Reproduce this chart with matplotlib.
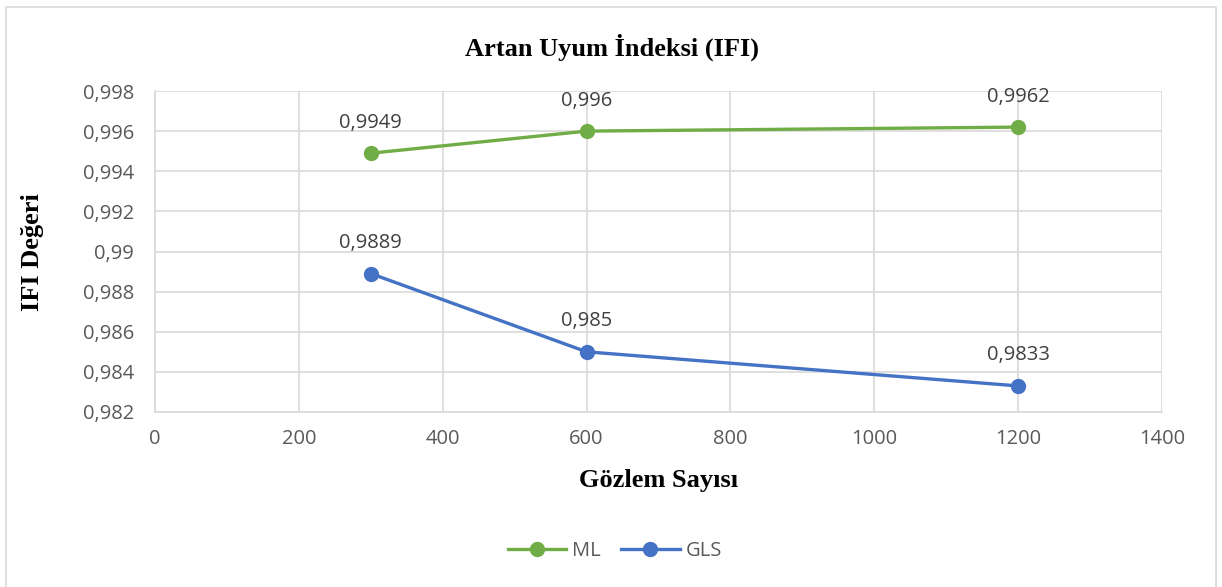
import matplotlib
matplotlib.use("Agg")
import matplotlib.pyplot as plt
from matplotlib.patches import Rectangle
from matplotlib.ticker import FuncFormatter

x_vals = [300, 600, 1200]
ml_vals = [0.9949, 0.996, 0.9962]
gls_vals = [0.9889, 0.985, 0.9833]
ml_labels = ["0,9949", "0,996", "0,9962"]
gls_labels = ["0,9889", "0,985", "0,9833"]

W, H = 1222, 587
fig = plt.figure(figsize=(W/100, H/100), dpi=100)
fig.patch.set_facecolor("white")

# border
fig.patches.append(Rectangle((5.5/W, -0.01), (1216-5.5)/W, 1 - 7/H + 0.01,
                             transform=fig.transFigure, fill=False,
                             edgecolor="#d9d9d9", linewidth=1.2))

ax = fig.add_axes([155/W, 1-412/H, (1162-155)/W, (412-91)/H])
tick_font = "Open Sans"
grid_c = "#d9d9d9"
txt_c = "#595959"

green = "#70AD47"
blue = "#4472C4"
ax.plot(x_vals, ml_vals, color=green, lw=2.4, marker="o", ms=10, label="ML", zorder=3)
ax.plot(x_vals, gls_vals, color=blue, lw=2.4, marker="o", ms=10, label="GLS", zorder=3)

for x, y, s in zip(x_vals, ml_vals, ml_labels):
    ax.annotate(s, (x, y), xytext=(0, 22), textcoords="offset points", ha="center",
                va="center", fontsize=14.5, color="#404040", fontfamily=tick_font)
for x, y, s in zip(x_vals, gls_vals, gls_labels):
    ax.annotate(s, (x, y), xytext=(0, 22), textcoords="offset points", ha="center",
                va="center", fontsize=14.5, color="#404040", fontfamily=tick_font)

ax.set_xlim(0, 1400)
ax.set_ylim(0.982, 0.998)
ax.set_xticks(range(0, 1401, 200))
yt = [0.982 + 0.002*i for i in range(9)]
ax.set_yticks(yt)
ax.yaxis.set_major_formatter(FuncFormatter(lambda v, p: ("%g" % round(v, 3)).replace(".", ",")))
ax.grid(True, color=grid_c, lw=1.2)
ax.set_axisbelow(True)
for s in ["top", "right"]:
    ax.spines[s].set_visible(False)
ax.spines["left"].set_color(grid_c)
ax.spines["bottom"].set_color(grid_c)
ax.spines["left"].set_linewidth(1.2)
ax.spines["bottom"].set_linewidth(1.2)
ax.tick_params(length=0, colors=txt_c, labelsize=14.5)
ax.tick_params(axis="y", pad=15)
ax.tick_params(axis="x", pad=12)
for lab in ax.get_xticklabels() + ax.get_yticklabels():
    lab.set_fontfamily(tick_font)

fig.text(612/W, 1-47/H, "Artan Uyum İndeksi (IFI)", ha="center", va="center",
         fontsize=19, fontweight="bold", fontfamily="Liberation Serif", color="black")
fig.text(659/W, 1-481/H, "Gözlem Sayısı", ha="center", va="center",
         fontsize=19, fontweight="bold", fontfamily="Liberation Serif", color="black")
fig.text(33/W, 1-252/H, "IFI Değeri", ha="center", va="center", rotation=90,
         fontsize=19, fontweight="bold", fontfamily="Liberation Serif", color="black")

leg = fig.legend(loc="center", bbox_to_anchor=(615/W, 1-551/H), ncol=2, frameon=False,
                 prop={"family": tick_font, "size": 14.5}, handlelength=2.9, columnspacing=1.0,
                 handletextpad=0.3)
for t in leg.get_texts():
    t.set_color(txt_c)

fig.savefig("out.png", dpi=100)
